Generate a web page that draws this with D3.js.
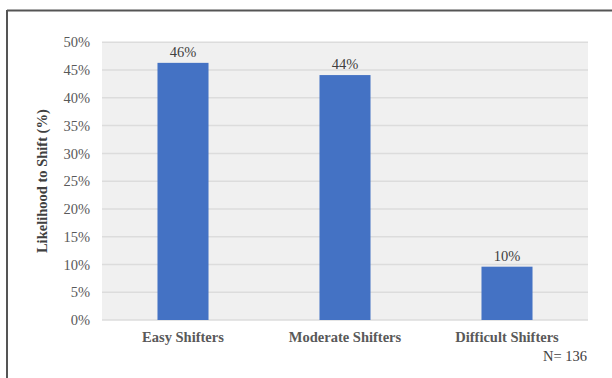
<!DOCTYPE html>
<html>
<head>
<meta charset="utf-8">
<script src="https://cdn.jsdelivr.net/npm/d3@7"></script>
<style>
  body { margin: 0; background: #fff; }
  text { font-family: "Liberation Serif", "Times New Roman", serif; }
</style>
</head>
<body>
<div id="chart_area"></div>
<script>
// chart data
var categories = ["Easy Shifters", "Moderate Shifters", "Difficult Shifters"];
var shiftValues = [46.3, 44.1, 9.6];
var valueLabels = ["46%", "44%", "10%"];
var yTicks = [0, 5, 10, 15, 20, 25, 30, 35, 40, 45, 50];

var frameWidth = 612;
var frameHeight = 378;

var margin = { top: 42.3, right: 24, bottom: 58, left: 102 };
var canvasWidth = frameWidth - margin.left - margin.right;
var canvasHeight = frameHeight - margin.top - margin.bottom;

var svg = d3.select("#chart_area").append("svg")
  .attr("width", frameWidth)
  .attr("height", frameHeight);

// outer frame lines (top and left)
svg.append("line")
  .attr("x1", 7).attr("y1", 10.5).attr("x2", frameWidth).attr("y2", 10.5)
  .attr("stroke", "#555").attr("stroke-width", 2);
svg.append("line")
  .attr("x1", 7).attr("y1", 10).attr("x2", 7).attr("y2", frameHeight)
  .attr("stroke", "#555").attr("stroke-width", 2);

var canvas = svg.append("g")
  .attr("transform", "translate(" + margin.left + "," + margin.top + ")");

var x = d3.scaleBand().domain(categories).range([0, canvasWidth]).paddingInner(0.685).paddingOuter(0.3425);
var y = d3.scaleLinear().domain([0, 50]).range([canvasHeight, 0]);

// plot background
canvas.append("rect")
  .attr("width", canvasWidth).attr("height", canvasHeight)
  .attr("fill", "#f0f0f0");

// gridlines
canvas.selectAll(".grid").data(yTicks).enter().append("line")
  .attr("x1", 0).attr("x2", canvasWidth)
  .attr("y1", function(d){ return y(d); })
  .attr("y2", function(d){ return y(d); })
  .attr("stroke", "#dcdcdc").attr("stroke-width", 1.5);

// y axis labels
var yAxis = d3.axisLeft(y).tickValues(yTicks).tickSize(0).tickPadding(12)
  .tickFormat(function(d){ return d + "%"; });
var gy = canvas.append("g").call(yAxis);
gy.select(".domain").remove();
gy.selectAll("text")
  .attr("fill", "#595959")
  .style("font-size", "14.5px")
  .style("font-family", "'Liberation Serif', serif");

// bars
canvas.selectAll(".bar").data(shiftValues).enter().append("rect")
  .attr("x", function(d, i){ return x(categories[i]); })
  .attr("y", function(d){ return y(d); })
  .attr("width", x.bandwidth())
  .attr("height", function(d){ return canvasHeight - y(d); })
  .attr("fill", "#4472c4");

// value labels
canvas.selectAll(".lbl").data(shiftValues).enter().append("text")
  .attr("x", function(d, i){ return x(categories[i]) + x.bandwidth() / 2; })
  .attr("y", function(d){ return y(d) - 6; })
  .attr("text-anchor", "middle")
  .attr("fill", "#404040")
  .style("font-size", "14.5px")
  .text(function(d, i){ return valueLabels[i]; });

// x axis labels
var xAxis = d3.axisBottom(x).tickSize(0).tickPadding(12);
var gx = canvas.append("g").attr("transform", "translate(0," + canvasHeight + ")").call(xAxis);
gx.select(".domain").remove();
gx.selectAll("text")
  .attr("fill", "#595959")
  .style("font-size", "14.5px")
  .style("font-weight", "bold")
  .style("font-family", "'Liberation Serif', serif");

// y title
svg.append("text")
  .attr("transform", "translate(47," + (margin.top + canvasHeight / 2) + ") rotate(-90)")
  .attr("text-anchor", "middle")
  .attr("fill", "#404040")
  .style("font-size", "14.5px")
  .style("font-weight", "bold")
  .text("Likelihood to Shift (%)");

// sample size note
svg.append("text")
  .attr("x", 587).attr("y", 361)
  .attr("text-anchor", "end")
  .attr("fill", "#404040")
  .style("font-size", "14.5px")
  .text("N= 136");
</script>
</body>
</html>
